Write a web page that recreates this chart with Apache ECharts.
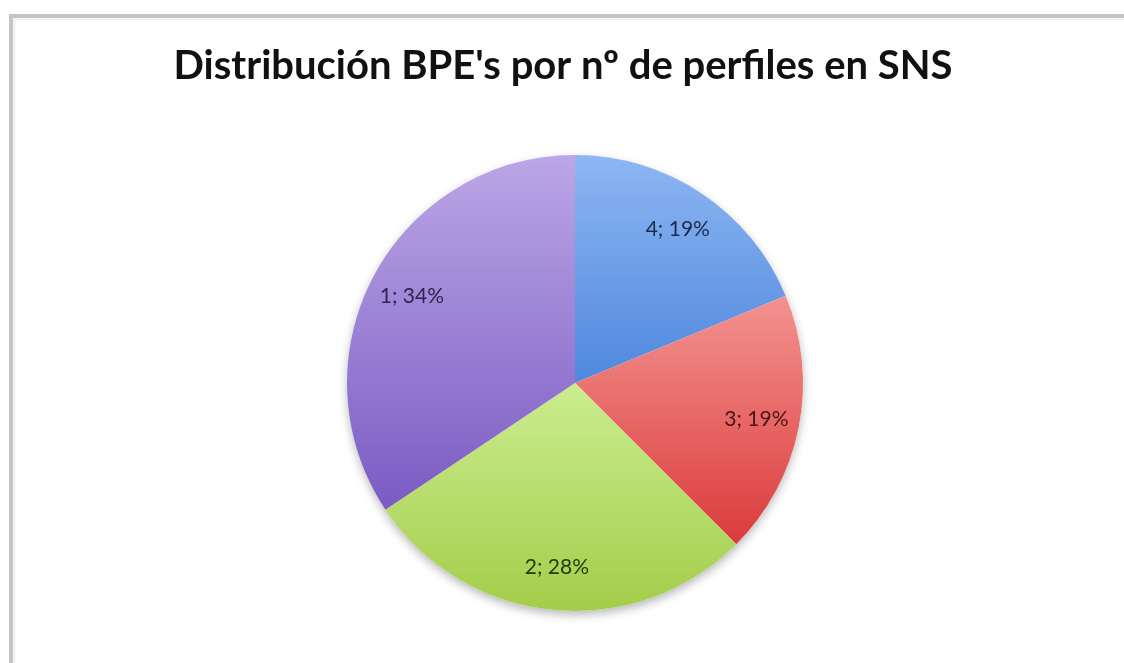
<!DOCTYPE html>
<html>
<head>
<meta charset="utf-8">
<script src="https://cdn.jsdelivr.net/npm/echarts@6/dist/echarts.min.js"></script>
<style>
  html, body { margin: 0; padding: 0; background: #ffffff; }
  #chart { width: 1124px; height: 663px; }
</style>
</head>
<body>
<div id="chart"></div>
<script>
// Number of profiles per BPE (category) and how many BPEs fall in each
const categories = ['4', '3', '2', '1'];
const counts = [6, 6, 9, 11];
const titleText = "Distribución BPE's por nº de perfiles en SNS";

// Slice gradients: [top, bottom]
const sliceGradients = [
  ['#8db6f2', '#4f88de'],
  ['#f39390', '#db3b3b'],
  ['#cbed8f', '#a3cd4a'],
  ['#bca6e6', '#7a5bc3']
];
const labelColors = ['#1b2a4e', '#4a1515', '#1f3a0f', '#35214f'];

const chart = echarts.init(document.getElementById('chart'), null, { renderer: 'canvas' });

const center = [575, 383];
const outerR = 228;

const sliceData = categories.map((c, i) => ({
  name: c,
  value: counts[i],
  itemStyle: {
    color: new echarts.graphic.LinearGradient(0, 0, 0, 1, [
      { offset: 0, color: sliceGradients[i][0] },
      { offset: 1, color: sliceGradients[i][1] }
    ])
  }
}));

const labelData = categories.map((c, i) => ({
  name: c,
  value: counts[i],
  label: { color: labelColors[i] }
}));

const total = counts.reduce((a, b) => a + b, 0);

chart.setOption({
  backgroundColor: '#ffffff',
  animation: false,
  title: {
    text: titleText,
    left: 558,
    textAlign: 'center',
    top: 41,
    textStyle: {
      fontFamily: 'Lato',
      fontWeight: 'bold',
      fontSize: 40,
      color: '#111111'
    }
  },
  graphic: [{
    type: 'rect',
    shape: { x: 11, y: 16, width: 1300, height: 900 },
    style: { fill: 'none', stroke: '#c4c4c4', lineWidth: 4 },
    silent: true
  }, {
    type: 'rect',
    shape: { x: 14.5, y: 19.5, width: 1300, height: 900 },
    style: { fill: 'none', stroke: '#efefef', lineWidth: 2 },
    silent: true
  }],
  series: [
    {
      // soft drop shadow under the whole pie
      type: 'pie',
      center: center,
      radius: outerR,
      silent: true,
      label: { show: false },
      labelLine: { show: false },
      data: [{ value: total, name: '' }],
      itemStyle: {
        color: '#ffffff',
        shadowBlur: 10,
        shadowOffsetY: 4,
        shadowColor: 'rgba(0,0,0,0.28)'
      }
    },
    {
      type: 'pie',
      center: center,
      radius: outerR,
      startAngle: 90,
      clockwise: true,
      silent: true,
      label: { show: false },
      labelLine: { show: false },
      data: sliceData
    },
    {
      // transparent ring that carries the value labels
      type: 'pie',
      center: center,
      radius: [136, outerR],
      startAngle: 90,
      clockwise: true,
      silent: true,
      percentPrecision: 0,
      itemStyle: { color: 'rgba(0,0,0,0)' },
      labelLine: { show: false },
      label: {
        show: true,
        position: 'inside',
        formatter: '{b}; {d}%',
        fontFamily: 'Lato',
        fontSize: 21,
        color: '#222'
      },
      data: labelData
    }
  ]
});
</script>
</body>
</html>
